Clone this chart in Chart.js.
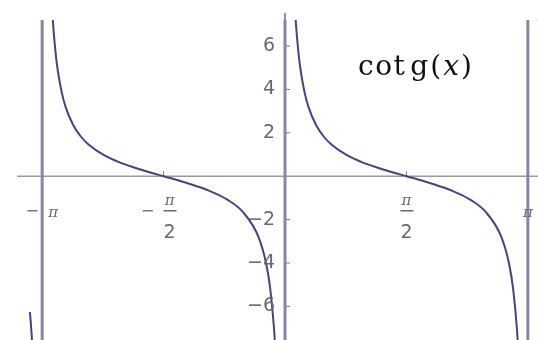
<!DOCTYPE html>
<html>
<head>
    <title>cotg(x)</title>
    <script src="https://cdn.jsdelivr.net/npm/chart.js"></script>
    <style>
        html, body { margin: 0; padding: 0; background: #fff; }
        canvas { display: block; }
    </style>
</head>
<body>
    <canvas id="cotChart" width="538" height="340"></canvas>

    <script>
        // branch between -pi and 0
        var leftBranchX = [-3.022, -3.002, -2.972, -2.942, -2.892, -2.842, -2.742, -2.642, -2.542, -2.342, -2.142, -1.942, -1.742, -1.571, -1.342, -1.142, -0.942, -0.742, -0.542, -0.342, -0.242, -0.192, -0.142, -0.122];
        var leftBranchY = [8.29, 7.10, 5.83, 4.93, 3.92, 3.23, 2.37, 1.83, 1.46, 0.97, 0.64, 0.39, 0.17, 0, -0.23, -0.46, -0.73, -1.09, -1.66, -2.81, -4.06, -5.16, -7.02, -8.18];
        // branch between 0 and pi
        var rightBranchX = [0.12, 0.14, 0.17, 0.20, 0.25, 0.30, 0.40, 0.50, 0.60, 0.80, 1.00, 1.20, 1.40, 1.571, 1.80, 2.00, 2.20, 2.40, 2.60, 2.80, 2.90, 2.95, 3.00, 3.02];
        var rightBranchY = [8.29, 7.10, 5.83, 4.93, 3.92, 3.23, 2.37, 1.83, 1.46, 0.97, 0.64, 0.39, 0.17, 0, -0.23, -0.46, -0.73, -1.09, -1.66, -2.81, -4.06, -5.16, -7.02, -8.18];
        // little pieces outside [-pi, pi]
        var leftTailX = [-3.30, -3.29, -3.28, -3.27, -3.26];
        var leftTailY = [-6.26, -6.69, -7.18, -7.75, -8.41];
        var rightTailX = [3.26, 3.27, 3.28, 3.29, 3.30];
        var rightTailY = [8.41, 7.75, 7.18, 6.69, 6.26];

        var asymptoteX = [-Math.PI, 0, Math.PI];

        var xTickValues = [-Math.PI, -Math.PI / 2, Math.PI / 2, Math.PI];
        var xTickLabels = ['−π', '−π/2', 'π/2', 'π'];
        var yTickValues = [-6, -4, -2, 2, 4, 6];
        var yTickLabels = ['−6', '−4', '−2', '2', '4', '6'];

        var xMin = -3.687, xMax = 3.273;
        var yMin = -7.55, yMax = 7.2;

        var curveColor = '#45457e';
        var asymColor = '#8686a6';

        function toPoints(xs, ys) {
            return xs.map(function(x, i) { return {x: x, y: ys[i]}; });
        }

        function curve(xs, ys) {
            return {
                data: toPoints(xs, ys),
                showLine: true,
                borderColor: curveColor,
                borderWidth: 2,
                pointRadius: 0,
                cubicInterpolationMode: 'monotone'
            };
        }

        var datasets = [
            curve(leftBranchX, leftBranchY),
            curve(rightBranchX, rightBranchY),
            curve(leftTailX, leftTailY),
            curve(rightTailX, rightTailY)
        ];
        asymptoteX.forEach(function(a) {
            datasets.push({
                data: [{x: a, y: yMin}, {x: a, y: yMax}],
                showLine: true,
                borderColor: asymColor,
                borderWidth: 3,
                pointRadius: 0
            });
        });

        // draw a string char by char with extra spacing, returns the new x
        function spaced(ctx, text, x, y, gap) {
            for (var i = 0; i < text.length; i++) {
                ctx.fillText(text[i], x, y);
                x += ctx.measureText(text[i]).width + gap;
            }
            return x;
        }

        // axes, tick labels and the title
        var axesPlugin = {
            id: 'axes',
            beforeDatasetsDraw: function(chart) {
                var ctx = chart.ctx;
                var xs = chart.scales.x, ys = chart.scales.y;
                var x0 = xs.getPixelForValue(0), y0 = ys.getPixelForValue(0);
                ctx.save();
                ctx.strokeStyle = '#9a9a9a';
                ctx.lineWidth = 1.5;
                ctx.beginPath();
                ctx.moveTo(17, y0);
                ctx.lineTo(chart.width, y0);
                ctx.stroke();
                ctx.strokeStyle = '#6a6a8a';
                ctx.beginPath();
                ctx.moveTo(x0, 13);
                ctx.lineTo(x0, chart.height);
                ctx.stroke();
                // tick marks
                ctx.lineWidth = 1;
                ctx.strokeStyle = '#777';
                yTickValues.forEach(function(v) {
                    var py = ys.getPixelForValue(v);
                    ctx.beginPath();
                    ctx.moveTo(x0, py);
                    ctx.lineTo(x0 + 5, py);
                    ctx.stroke();
                });
                xTickValues.forEach(function(v) {
                    var px = xs.getPixelForValue(v);
                    ctx.beginPath();
                    ctx.moveTo(px, y0);
                    ctx.lineTo(px, y0 - 5);
                    ctx.stroke();
                });
                ctx.restore();
            },
            afterDraw: function(chart) {
                var ctx = chart.ctx;
                var xs = chart.scales.x, ys = chart.scales.y;
                var x0 = xs.getPixelForValue(0);
                ctx.save();
                ctx.fillStyle = '#6a6a6a';
                ctx.textBaseline = 'middle';

                // y tick labels
                ctx.font = '19px "DejaVu Sans"';
                ctx.textAlign = 'right';
                yTickValues.forEach(function(v, i) {
                    ctx.fillText(yTickLabels[i], x0 - 10, ys.getPixelForValue(v));
                });

                // x tick labels: minus sign, pi, or pi over 2
                ctx.textAlign = 'center';
                xTickValues.forEach(function(v, i) {
                    var px = xs.getPixelForValue(v);
                    var lab = xTickLabels[i];
                    var neg = lab.charAt(0) === '−';
                    var frac = lab.indexOf('/') >= 0;
                    var cx = px;
                    if (frac) {
                        if (neg) {
                            ctx.font = '16px "DejaVu Sans"';
                            ctx.fillText('−', px - 16, 212);
                            cx = px + 6;
                        }
                        ctx.font = 'italic 15px "DejaVu Serif"';
                        ctx.fillText('π', cx, 201);
                        ctx.fillRect(cx - 6, 210, 13, 1.5);
                        ctx.font = '19px "DejaVu Sans"';
                        ctx.fillText('2', cx, 233);
                    } else {
                        if (neg) {
                            ctx.font = '16px "DejaVu Sans"';
                            ctx.fillText('−', px - 10, 212);
                            cx = px + 11;
                        }
                        ctx.font = 'italic 15px "DejaVu Serif"';
                        ctx.fillText('π', cx, 213);
                    }
                });

                // title
                ctx.fillStyle = '#111';
                ctx.textAlign = 'left';
                ctx.textBaseline = 'alphabetic';
                var tx = 358, ty = 75;
                ctx.font = '28px "DejaVu Serif"';
                tx = spaced(ctx, 'cot', tx, ty, 1.5) + 4;
                tx = spaced(ctx, 'g(', tx, ty, 2);
                ctx.font = 'italic 28px "DejaVu Serif"';
                tx = spaced(ctx, 'x', tx, ty, 2);
                ctx.font = '28px "DejaVu Serif"';
                ctx.fillText(')', tx, ty);
                ctx.restore();
            }
        };

        var ctx = document.getElementById('cotChart').getContext('2d');
        var cotChart = new Chart(ctx, {
            type: 'scatter',
            data: {datasets: datasets},
            options: {
                responsive: false,
                animation: false,
                devicePixelRatio: 1,
                layout: {padding: {top: 20, left: 0, right: 0, bottom: 0}},
                scales: {
                    x: {type: 'linear', min: xMin, max: xMax, display: false},
                    y: {type: 'linear', min: yMin, max: yMax, display: false}
                },
                plugins: {
                    legend: {display: false},
                    tooltip: {enabled: false}
                }
            },
            plugins: [axesPlugin]
        });
    </script>
</body>
</html>
